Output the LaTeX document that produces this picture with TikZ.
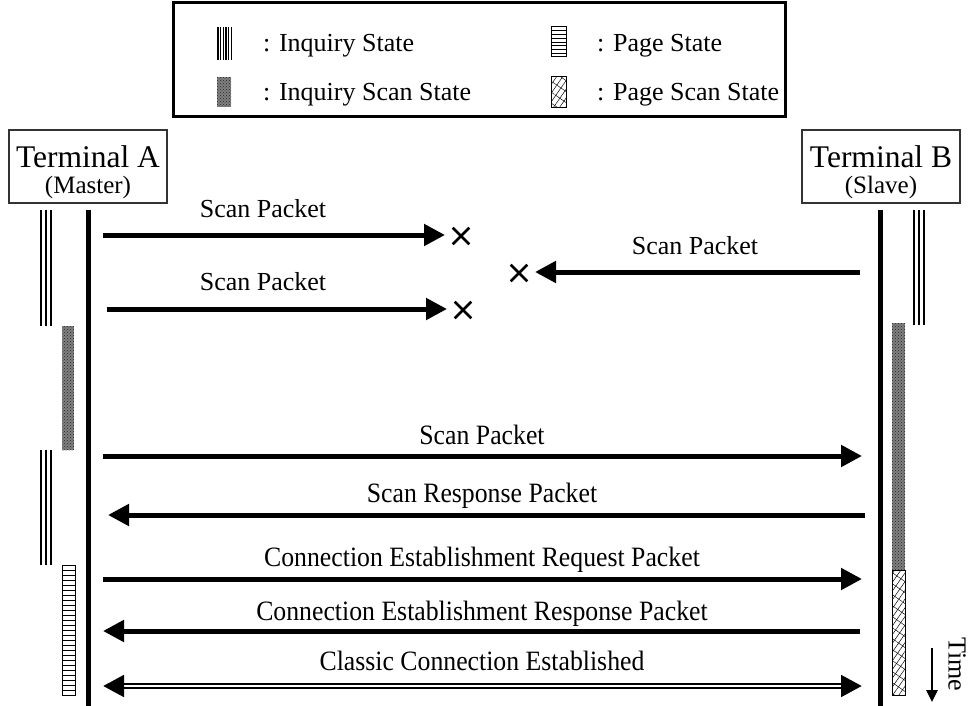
\documentclass[tikz,border=0pt]{standalone}
\usepackage{fontspec}
\setmainfont{Liberation Serif}
\usetikzlibrary{arrows.meta,shapes.misc,patterns,patterns.meta,calc}

\tikzset{
  msg/.style={line width=5pt, -{Triangle[length=21pt,width=21pt]}},
  lbl/.style={anchor=base, inner sep=0pt, font=\fontsize{26}{30}\selectfont},
  lblw/.style={anchor=base, inner sep=0pt, xscale=0.92, font=\fontsize{28}{30}\selectfont},
  lost/.style={cross out, draw, line width=2.6pt, minimum size=14pt, inner sep=0pt},
  lifeline/.style={line width=5pt},
  term/.style={draw=black!80, line width=1.3pt, minimum width=158pt, minimum height=73pt, inner sep=0pt},
  legtxt/.style={anchor=base west, inner sep=0pt, font=\fontsize{26}{30}\selectfont},
  scanfill/.style={fill=black!50, postaction={pattern=crosshatch dots, pattern color=black!85}},
  pagebox/.style={draw, line width=1pt, fill=white},
  pscan/.style={draw, line width=1pt,
     postaction={pattern={Lines[angle=55,distance=5pt,line width=0.5pt]}},
     postaction={pattern={Lines[angle=-35,distance=9pt,line width=0.45pt]}}},
}

\begin{document}
\begin{tikzpicture}[x=1pt,y=-1pt]
\useasboundingbox (0,0) rectangle (971,706);

% ---------- legend ----------
\node[draw, line width=3pt, minimum width=612pt, minimum height=114pt, inner sep=0pt] (legend) at (479,60) {};
% inquiry state: vertical lines
\foreach \i in {0,...,5} \draw[line width=1.3pt] (218+\i*2.7,27) -- (218+\i*2.7,60);
\node[legtxt] (l1) at (263,52) {: Inquiry State};
% inquiry scan state
\path[scanfill] (217,77) rectangle (231,107);
\node[legtxt] (l2) at (263,101) {: Inquiry Scan State};
% page state
\draw[pagebox] (551,27) rectangle (566,57);
\foreach \k in {1,...,7} \draw[line width=0.8pt] (551,27+\k*3.75) -- (566,27+\k*3.75);
\node[legtxt] (l3) at (597,52) {: Page State};
% page scan state
\draw[pscan] (551,77) rectangle (566,108);
\node[legtxt] (l4) at (597,101) {: Page Scan State};

% ---------- terminals ----------
\node[term] (TA) at (88,166.5) {};
\node[anchor=base, inner sep=0pt, font=\fontsize{31.5}{34}\selectfont] (TAt) at (88,167) {Terminal A};
\node[anchor=base, inner sep=0pt, font=\fontsize{25}{28}\selectfont] (TAs) at (88,193) {(Master)};
\node[term] (TB) at (881,166.5) {};
\node[anchor=base, inner sep=0pt, font=\fontsize{31.5}{34}\selectfont] (TBt) at (881,167) {Terminal B};
\node[anchor=base, inner sep=0pt, font=\fontsize{25}{28}\selectfont] (TBs) at (881,193) {(Slave)};

% lifelines
\coordinate (Atop) at (88,210);  \coordinate (Abot) at (88,706);
\coordinate (Btop) at (880,210); \coordinate (Bbot) at (880,706);
\draw[lifeline] (Atop) -- (Abot);
\draw[lifeline] (Btop) -- (Bbot);

% ---------- state bars, terminal A ----------
\foreach \x in {41,46,51} {
  \draw[line width=1.8pt] (\x,210) -- (\x,326);
  \draw[line width=1.8pt] (\x,450) -- (\x,565);
}
\path[scanfill] (62,326) rectangle (74,450);
\draw[pagebox] (62,565) rectangle (75,695);
\foreach \k in {1,...,25} \draw[line width=0.8pt] (62,565+\k*5) -- (75,565+\k*5);

% ---------- state bars, terminal B ----------
\foreach \x in {914,919,924} \draw[line width=1.8pt] (\x,210) -- (\x,325);
\path[scanfill] (892,323) rectangle (905,570);
\draw[pscan] (892,570) rectangle (905,695);

% time arrow
\coordinate (t1) at (932,648); \coordinate (t2) at (932,702);
\draw[line width=2.6pt, -{Triangle[length=12pt,width=11pt]}] (t1) -- (t2);
\node[rotate=-90, inner sep=0pt, font=\fontsize{26}{30}\selectfont] (time) at (957,664) {Time};

% ---------- messages ----------
% lost scan packets
\coordinate (m1s) at (103,235); \coordinate (m1e) at (445,235);
\node[lost] (x1) at (461,236) {};
\draw[msg] (m1s) -- (m1e);
\node[lbl] (t1l) at (263,217) {Scan Packet};

\coordinate (m2s) at (860,272); \coordinate (m2e) at (535,272);
\node[lost] (x2) at (519,273) {};
\draw[msg] (m2s) -- (m2e);
\node[lbl] (t2l) at (695,254) {Scan Packet};

\coordinate (m3s) at (107,309); \coordinate (m3e) at (447,309);
\node[lost] (x3) at (463,310) {};
\draw[msg] (m3s) -- (m3e);
\node[lbl] (t3l) at (263,290) {Scan Packet};

% successful exchange
\coordinate (m4s) at (103,456); \coordinate (m4e) at (862,456);
\draw[msg] (m4s) -- (m4e);
\node[lblw] (t4l) at (482,444) {Scan Packet};

\coordinate (m5s) at (865,515); \coordinate (m5e) at (108,515);
\draw[msg] (m5s) -- (m5e);
\node[lblw] (t5l) at (482,502) {Scan Response Packet};

\coordinate (m6s) at (103,579); \coordinate (m6e) at (862,579);
\draw[msg] (m6s) -- (m6e);
\node[lblw] (t6l) at (482,566) {Connection Establishment Request Packet};

\coordinate (m7s) at (860,631); \coordinate (m7e) at (103,631);
\draw[msg] (m7s) -- (m7e);
\node[lblw] (t7l) at (482,620) {Connection Establishment Response Packet};

% established link: double line with heads at both ends
\coordinate (m8s) at (103,686); \coordinate (m8e) at (862,686);
\draw[line width=2.2pt, double, double distance=2.2pt, shorten <=18pt, shorten >=18pt] (m8s) -- (m8e);
\draw[line width=4.8pt, -{Triangle[length=21pt,width=21pt]}] ($(m8e)+(-21,0)$) -- (m8e);
\draw[line width=4.8pt, -{Triangle[length=21pt,width=21pt]}] ($(m8s)+(21,0)$) -- (m8s);
\node[lblw] (t8l) at (482,670) {Classic Connection Established};
\end{tikzpicture}
\end{document}
